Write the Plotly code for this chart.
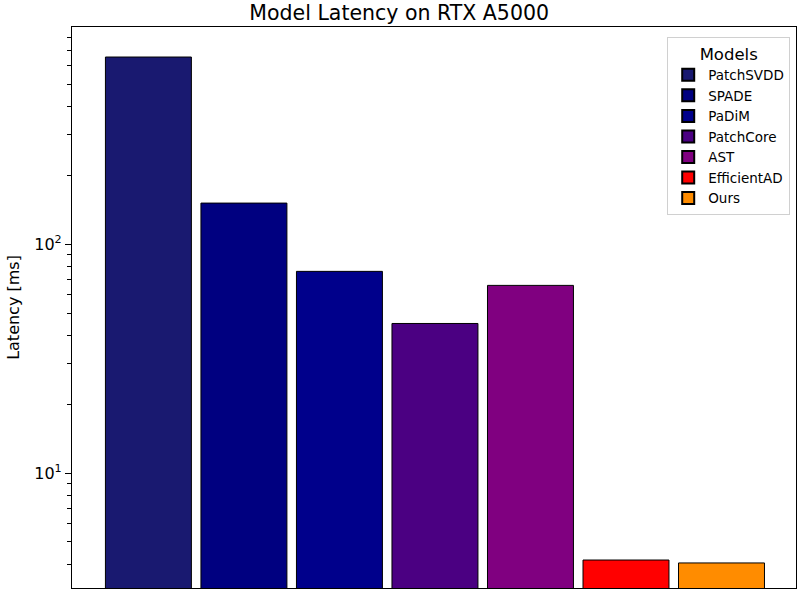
import plotly.graph_objects as go

models = ["PatchSVDD", "SPADE", "PaDiM", "PatchCore", "AST", "EfficientAD", "Ours"]
latency_ms = [656, 151, 76, 45, 66, 4.17, 4.05]
colors = ["#191970", "#000080", "#00008B", "#4B0082", "#800080", "#FF0000", "#FF8C00"]

fig = go.Figure()
for m, v, c in zip(models, latency_ms, colors):
    fig.add_trace(go.Bar(
        x=[m], y=[v], name=m, width=0.9,
        marker=dict(color=c, line=dict(color="black", width=1)),
    ))

minor_vals = [3, 4, 5, 6, 7, 8, 9, 20, 30, 40, 50, 60, 70, 80, 90, 200, 300, 400, 500, 600, 700, 800]

fig.update_layout(
    width=800, height=590,
    margin=dict(l=72, r=4, t=27, b=2),
    paper_bgcolor="white", plot_bgcolor="white",
    barmode="overlay",
    font=dict(family="DejaVu Sans", color="black"),
    title=dict(text="Model Latency on RTX A5000", x=0.499, xanchor="center",
               y=0.979, yanchor="middle", font=dict(size=20.5, color="black")),
    showlegend=True,
    legend=dict(
        x=0.992, y=0.982, xanchor="right", yanchor="top",
        bordercolor="#d0d0d0", borderwidth=1, bgcolor="white",
        font=dict(size=13.5),
        title=dict(text="Models", side="top center", font=dict(size=16.5)),
        itemsizing="constant", tracegroupgap=0,
    ),
    xaxis=dict(
        type="category", range=[-0.8, 6.78],
        showticklabels=False, ticks="",
        showline=True, linecolor="black", linewidth=1.2, mirror=True,
        showgrid=False, zeroline=False,
    ),
    yaxis=dict(
        type="log", range=[0.498, 2.948],
        tickvals=[10, 100], ticktext=["10<sup>1</sup>", "10<sup>2</sup>"],
        ticks="outside", ticklen=6, tickwidth=1, tickcolor="black",
        tickfont=dict(size=16),
        title=dict(text="Latency [ms]", font=dict(size=16), standoff=10),
        showline=True, linecolor="black", linewidth=1.2, mirror=True,
        showgrid=False, zeroline=False,
        minor=dict(tickvals=minor_vals, ticks="outside", ticklen=3.5,
                   tickwidth=0.8, tickcolor="black", showgrid=False),
    ),
)

fig.write_html("out.html")
